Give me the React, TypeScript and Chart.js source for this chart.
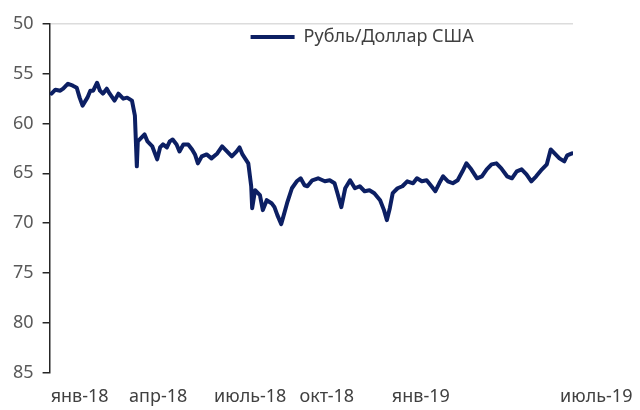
import { useEffect, useRef } from 'react';
import { Chart, registerables } from 'chart.js';

Chart.register(...registerables);

// Days since 1 Jan 2018
const days = [
  15, 19, 24, 27, 32, 37, 41, 44, 47, 52, 55, 58, 62, 65, 68, 72, 75, 80, 84, 89,
  93, 98, 101, 103, 104, 108, 111, 114, 119, 124, 127, 130, 134, 137, 140, 144, 147, 151, 156, 160,
  163, 166, 170, 175, 180, 186, 191, 196, 201, 206, 209, 212, 218, 221, 222, 225, 230, 233, 237, 242,
  245, 248, 252, 254, 258, 263, 268, 272, 276, 279, 284, 290, 297, 302, 307, 310, 314, 318, 323, 328,
  333, 338, 343, 348, 354, 358, 361, 364, 367, 372, 377, 382, 388, 392, 397, 402, 407, 411, 415, 419,
  424, 429, 434, 439, 443, 448, 454, 459, 464, 469, 474, 479, 485, 490, 495, 500, 505, 510, 515, 521,
  526, 530, 534, 539, 544, 547, 552,
];

// RUB per USD
const usdRub = [
  57.0, 56.6, 56.7, 56.5, 56.0, 56.2, 56.4, 57.4, 58.2, 57.4, 56.7, 56.7, 55.9, 56.7, 57.0, 56.5, 57.0, 57.7, 57.0, 57.5,
  57.4, 57.7, 59.2, 64.3, 61.8, 61.4, 61.1, 61.8, 62.3, 63.6, 62.4, 62.1, 62.4, 61.8, 61.6, 62.1, 62.8, 62.1, 62.1, 62.6,
  63.1, 64.0, 63.3, 63.1, 63.5, 63.0, 62.3, 62.8, 63.3, 62.8, 62.4, 63.1, 64.0, 66.3, 68.5, 66.7, 67.2, 68.7, 67.7, 68.0,
  68.4, 69.2, 70.1, 69.4, 68.0, 66.5, 65.8, 65.5, 66.2, 66.3, 65.7, 65.5, 65.8, 65.7, 66.0, 67.0, 68.4, 66.5, 65.7, 66.5,
  66.3, 66.8, 66.7, 67.0, 67.7, 68.7, 69.7, 68.5, 67.0, 66.5, 66.3, 65.8, 66.0, 65.5, 65.8, 65.7, 66.3, 66.8, 66.0, 65.3,
  65.8, 66.0, 65.7, 64.8, 64.0, 64.6, 65.5, 65.3, 64.6, 64.1, 64.0, 64.5, 65.3, 65.5, 64.8, 64.6, 65.1, 65.8, 65.3, 64.6,
  64.1, 62.6, 63.0, 63.5, 63.8, 63.2, 63.0,
];

const tickDays = [44, 125, 220, 299, 396, 577];
const tickLabels = ['янв-18', 'апр-18', 'июль-18', 'окт-18', 'янв-19', 'июль-19'];
const yTicks = [50, 55, 60, 65, 70, 75, 80, 85];
const seriesName = 'Рубль/Доллар США';

const legendShift = {
  id: 'legendShift',
  afterLayout(chart: any) {
    const l = chart.legend;
    if (l) {
      l.left += 181;
      l.right += 181;
    }
  },
};

export default function App() {
  const ref = useRef<HTMLCanvasElement>(null);
  useEffect(() => {
    const font = { family: '"Noto Sans", sans-serif', size: 18 };
    const navy = '#0c1f63';
    const chart = new Chart(ref.current as HTMLCanvasElement, {
      type: 'line',
      data: {
        datasets: [
          {
            label: seriesName,
            data: days.map((d, i) => ({ x: d, y: usdRub[i] })),
            borderColor: navy,
            backgroundColor: navy,
            borderWidth: 4,
            pointRadius: 0,
            tension: 0,
            borderJoinStyle: 'round',
            borderCapStyle: 'round',
          },
        ],
      },
      options: {
        animation: false,
        responsive: true,
        maintainAspectRatio: false,
        layout: { padding: { left: -4, top: 16, right: 59, bottom: -14 } },
        plugins: {
          legend: {
            position: 'chartArea' as any,
            align: 'start',
            labels: {
              usePointStyle: true,
              pointStyle: 'line',
              pointStyleWidth: 44,
              padding: 20,
              color: '#404040',
              font,
            },
          },
          tooltip: { enabled: false },
        },
        scales: {
          x: {
            type: 'linear',
            min: 13,
            max: 553,
            afterBuildTicks: (s: any) => {
              s.ticks = tickDays.map((v) => ({ value: v }));
            },
            afterFit: (s: any) => {
              s.paddingLeft = 0;
              s.paddingRight = 0;
            },
            ticks: {
              autoSkip: false,
              maxRotation: 0,
              padding: 14,
              color: '#404040',
              font,
              callback: (_v: any, i: number) => tickLabels[i],
            },
            grid: { display: false, drawTicks: false },
            border: { display: false },
          },
          y: {
            reverse: true,
            min: 50,
            max: 85,
            afterBuildTicks: (s: any) => {
              s.ticks = yTicks.map((v) => ({ value: v }));
            },
            afterFit: (s: any) => {
              s.paddingTop = 0;
              s.paddingBottom = 0;
            },
            ticks: { padding: 9, color: '#595959', font },
            grid: {
              color: (c: any) => (c.tick && c.tick.value === 50 ? '#dcdcdc' : 'rgba(0,0,0,0)'),
              tickColor: '#262626',
              tickLength: 7,
              lineWidth: 1.5,
            },
            border: { color: '#262626', width: 1.5 },
          },
        },
      },
      plugins: [legendShift],
    });
    return () => chart.destroy();
  }, []);
  return (
    <div style={{ width: 624, height: 400 }}>
      <canvas ref={ref} />
    </div>
  );
}
